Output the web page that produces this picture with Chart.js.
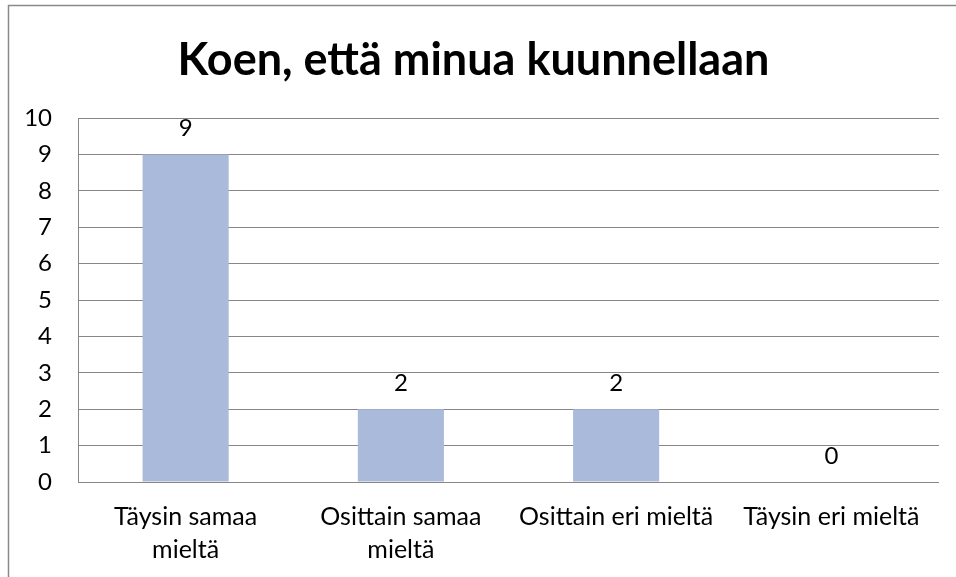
<!DOCTYPE html>
<html>
<head>
<meta charset="utf-8">
<script src="https://cdn.jsdelivr.net/npm/chart.js@4.4.0/dist/chart.umd.min.js"></script>
<style>
  html, body { margin: 0; padding: 0; background: #fff; }
  #wrap { width: 956px; height: 577px; position: relative; }
</style>
</head>
<body>
<div id="wrap"><canvas id="c" width="956" height="577"></canvas></div>
<script>
const chartTitle = 'Koen, että minua kuunnellaan';
const categories = [['Täysin samaa', 'mieltä'], ['Osittain samaa', 'mieltä'], ['Osittain eri mieltä'], ['Täysin eri mieltä']];
const values = [9, 2, 2, 0];
const yMin = 0, yMax = 10, yStep = 1;

const FONT = 'Lato, Carlito, Calibri, "Open Sans", sans-serif';
const GRID = '#878787';

const frame = {
  id: 'frame',
  beforeDraw(chart) {
    const ctx = chart.ctx;
    ctx.save();
    ctx.fillStyle = '#fff';
    ctx.fillRect(0, 0, chart.width, chart.height);
    ctx.strokeStyle = '#8a8a8a';
    ctx.lineWidth = 1.5;
    ctx.beginPath();
    ctx.moveTo(8.5, chart.height + 2);
    ctx.lineTo(8.5, 5.5);
    ctx.lineTo(chart.width + 2, 5.5);
    ctx.stroke();
    ctx.restore();
  }
};

const valueLabels = {
  id: 'valueLabels',
  afterDatasetsDraw(chart) {
    const ctx = chart.ctx;
    const meta = chart.getDatasetMeta(0);
    ctx.save();
    ctx.fillStyle = '#000';
    ctx.font = '24px ' + FONT;
    ctx.textAlign = 'center';
    ctx.textBaseline = 'middle';
    meta.data.forEach((bar, i) => {
      ctx.fillText(String(values[i]), bar.x, bar.y - 26);
    });
    ctx.restore();
  }
};

new Chart(document.getElementById('c'), {
  type: 'bar',
  data: {
    labels: categories,
    datasets: [{
      data: values,
      backgroundColor: '#AABADA',
      borderWidth: 0,
      barPercentage: 0.4,
      categoryPercentage: 1.0
    }]
  },
  options: {
    responsive: false,
    animation: false,
    devicePixelRatio: 1,
    layout: { padding: { left: 8, right: 17, top: 0, bottom: 0 } },
    plugins: {
      legend: { display: false },
      tooltip: { enabled: false },
      title: {
        display: true,
        text: chartTitle,
        color: '#000',
        font: { family: FONT, size: 45, weight: 'bold', lineHeight: 1.2 },
        padding: { top: 33, bottom: 31 }
      }
    },
    scales: {
      x: {
        grid: { display: false, drawTicks: false },
        border: { display: false },
        ticks: {
          color: '#000',
          font: { family: FONT, size: 25, lineHeight: 1.32 },
          padding: 18,
          maxRotation: 0,
          autoSkip: false
        },
        afterFit(scale) { scale.height = 95; }
      },
      y: {
        min: yMin,
        max: yMax,
        grid: { color: GRID, lineWidth: 1, drawTicks: false },
        border: { display: true, color: GRID, width: 1 },
        ticks: {
          stepSize: yStep,
          color: '#000',
          font: { family: FONT, size: 24 },
          padding: 26
        },
        afterFit(scale) { scale.width = 70; }
      }
    }
  },
  plugins: [frame, valueLabels]
});
</script>
</body>
</html>
